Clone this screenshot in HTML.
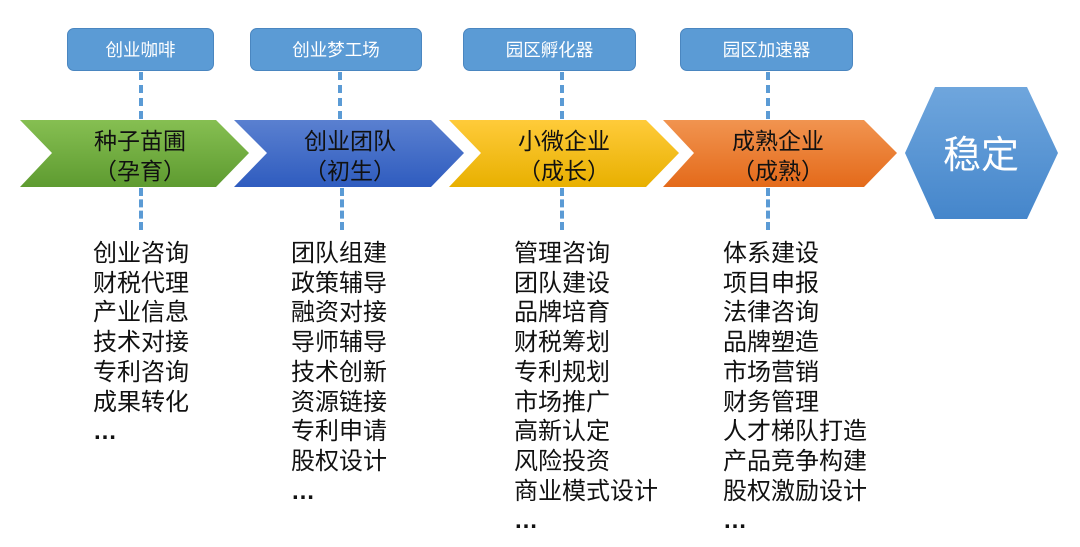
<!DOCTYPE html>
<html><head><meta charset="utf-8"><style>
html,body{margin:0;padding:0;background:#fff;}
body{width:1080px;height:547px;position:relative;overflow:hidden;font-family:"Liberation Sans","Noto Sans CJK SC",sans-serif;}
.box{position:absolute;top:28px;height:43px;background:#5b9bd5;border:1px solid #4a86c0;border-radius:7px;color:#fff;font-size:17.5px;line-height:43px;text-align:center;box-sizing:border-box;}
.dash{position:absolute;width:0;border-left:4px dashed #5b9bd5;}
.lbl{position:absolute;top:126px;height:66px;text-align:center;font-size:23px;line-height:30px;color:#111;}
.list{position:absolute;top:239px;font-size:24px;line-height:29.7px;color:#111;}
</style></head><body>
<div class="box" style="left:67px;width:147px;">创业咖啡</div>
<div class="box" style="left:250px;width:172px;">创业梦工场</div>
<div class="box" style="left:463px;width:173px;">园区孵化器</div>
<div class="box" style="left:680px;width:173px;">园区加速器</div>

<div class="dash" style="left:139px;top:72px;height:47px;"></div>
<div class="dash" style="left:338px;top:72px;height:47px;"></div>
<div class="dash" style="left:560px;top:72px;height:47px;"></div>
<div class="dash" style="left:766px;top:72px;height:47px;"></div>

<svg width="1080" height="547" style="position:absolute;left:0;top:0;">
<defs>
<linearGradient id="g1" x1="0" y1="0" x2="0" y2="1"><stop offset="0" stop-color="#86bf52"/><stop offset="1" stop-color="#5e9b30"/></linearGradient>
<linearGradient id="g2" x1="0" y1="0" x2="0" y2="1"><stop offset="0" stop-color="#5a80d0"/><stop offset="1" stop-color="#2f5cbf"/></linearGradient>
<linearGradient id="g3" x1="0" y1="0" x2="0" y2="1"><stop offset="0" stop-color="#ffcb3a"/><stop offset="1" stop-color="#e8b000"/></linearGradient>
<linearGradient id="g4" x1="0" y1="0" x2="0" y2="1"><stop offset="0" stop-color="#f19450"/><stop offset="1" stop-color="#e46a1a"/></linearGradient>
<linearGradient id="g5" x1="0" y1="0" x2="0" y2="1"><stop offset="0" stop-color="#6fa6dd"/><stop offset="1" stop-color="#4586cb"/></linearGradient>
</defs>
<polygon points="20,120 216,120 249,153 216,187 20,187 52,153" fill="url(#g1)"/>
<polygon points="234,120 431,120 464,153 431,187 234,187 267,153" fill="url(#g2)"/>
<polygon points="449,120 646,120 679,153 646,187 449,187 481,153" fill="url(#g3)"/>
<polygon points="663,120 864,120 897,153 864,187 663,187 694,153" fill="url(#g4)"/>
<polygon points="935,87 1027,87 1058,153 1027,219 935,219 905,153" fill="url(#g5)"/>
<text x="981" y="168" text-anchor="middle" font-size="38" fill="#fff" font-family="Liberation Sans, Noto Sans CJK SC, sans-serif">稳定</text>
</svg>

<div class="lbl" style="left:40px;width:200px;">种子苗圃<br>（孕育）</div>
<div class="lbl" style="left:250px;width:200px;">创业团队<br>（初生）</div>
<div class="lbl" style="left:464px;width:200px;">小微企业<br>（成长）</div>
<div class="lbl" style="left:678px;width:200px;">成熟企业<br>（成熟）</div>

<div class="dash" style="left:139px;top:188px;height:42px;"></div>
<div class="dash" style="left:340px;top:188px;height:42px;"></div>
<div class="dash" style="left:560px;top:188px;height:42px;"></div>
<div class="dash" style="left:766px;top:188px;height:42px;"></div>

<div class="list" style="left:93px;">创业咨询<br>财税代理<br>产业信息<br>技术对接<br>专利咨询<br>成果转化<br><b>…</b></div>
<div class="list" style="left:291px;">团队组建<br>政策辅导<br>融资对接<br>导师辅导<br>技术创新<br>资源链接<br>专利申请<br>股权设计<br><b>…</b></div>
<div class="list" style="left:514px;">管理咨询<br>团队建设<br>品牌培育<br>财税筹划<br>专利规划<br>市场推广<br>高新认定<br>风险投资<br>商业模式设计<br><b>…</b></div>
<div class="list" style="left:723px;">体系建设<br>项目申报<br>法律咨询<br>品牌塑造<br>市场营销<br>财务管理<br>人才梯队打造<br>产品竞争构建<br>股权激励设计<br><b>…</b></div>
</body></html>
